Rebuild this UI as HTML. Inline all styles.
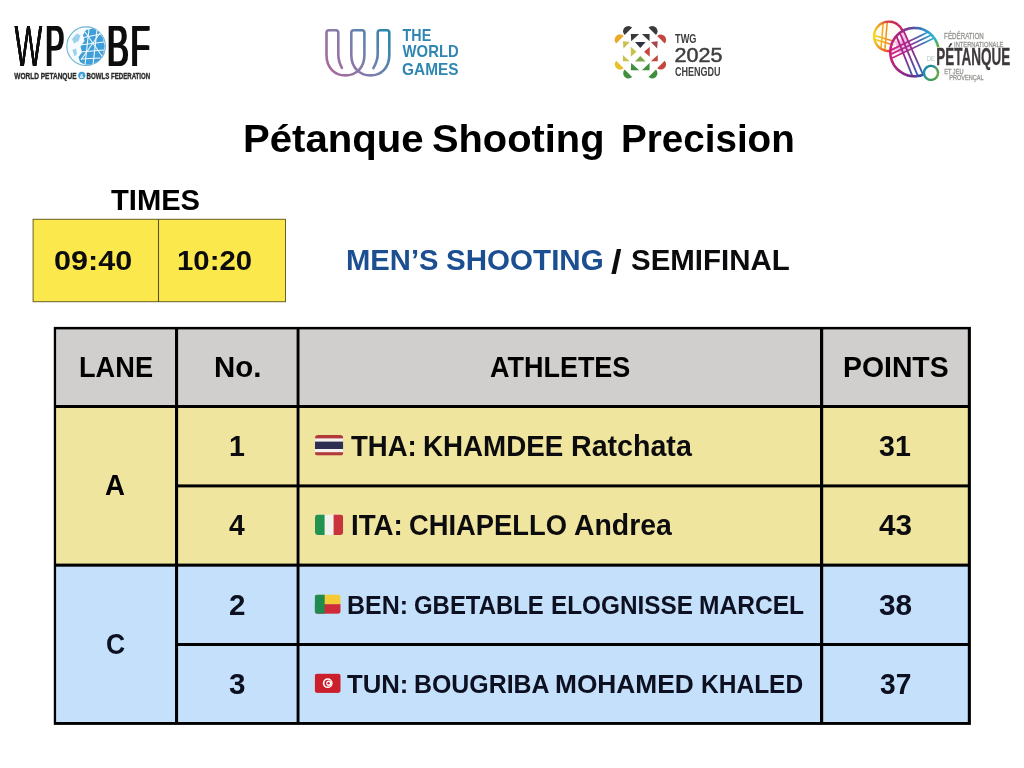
<!DOCTYPE html>
<html lang="en">
<head>
<meta charset="utf-8">
<title>Pétanque Shooting Precision – Men’s Shooting Semifinal</title>
<style>
html,body{margin:0;padding:0;background:#fff}
body{width:1024px;height:768px;position:relative;overflow:hidden;font-family:"Liberation Sans", sans-serif}
.t{position:absolute;display:block;white-space:nowrap;margin:0;padding:0;font-weight:bold;transform-origin:0 0}
.g{margin:0;padding:0;font-size:0;line-height:0;height:0}
svg{position:absolute;left:0;top:0;overflow:visible}
svg text{font-family:"Liberation Sans", sans-serif}
#titlea{left:242.89px;top:120.23px;font-size:38.0px;line-height:38.0px;color:#000;transform:scaleX(1.0560)}
#titleb{left:431.68px;top:120.23px;font-size:38.0px;line-height:38.0px;color:#000;transform:scaleX(1.0477)}
#titlec{left:621.29px;top:120.23px;font-size:38.0px;line-height:38.0px;color:#000;transform:scaleX(1.0158)}
#times{left:110.80px;top:186.05px;font-size:29.0px;line-height:29.0px;color:#000;transform:scaleX(1.0051)}
#t1{left:53.74px;top:246.71px;font-size:27.75px;line-height:27.75px;color:#0c0c0e;transform:scaleX(1.1017)}
#t2{left:177.27px;top:246.71px;font-size:27.75px;line-height:27.75px;color:#0c0c0e;transform:scaleX(1.0570)}
#suba{left:345.97px;top:245.95px;font-size:29.0px;line-height:29.0px;color:#1b4f91;transform:scaleX(1.0071)}
#subb{left:445.54px;top:245.95px;font-size:29.0px;line-height:29.0px;color:#1b4f91;transform:scaleX(1.0196)}
#subc{left:611.30px;top:245.99px;font-size:32.5px;line-height:32.5px;color:#0c0c0e;transform:scaleX(1.1706)}
#subd{left:630.84px;top:245.95px;font-size:29.0px;line-height:29.0px;color:#0c0c0e;transform:scaleX(1.0153)}
#h1{left:78.90px;top:352.56px;font-size:28.75px;line-height:28.75px;color:#000;transform:scaleX(0.9457)}
#h2{left:214.06px;top:352.56px;font-size:28.75px;line-height:28.75px;color:#000;transform:scaleX(1.0230)}
#h3{left:489.58px;top:352.56px;font-size:28.75px;line-height:28.75px;color:#000;transform:scaleX(0.9380)}
#h4{left:843.43px;top:352.56px;font-size:28.75px;line-height:28.75px;color:#000;transform:scaleX(0.9869)}
#la{left:105.47px;top:471.25px;font-size:29.0px;line-height:29.0px;color:#000;transform:scaleX(0.9530)}
#n1{left:228.81px;top:431.55px;font-size:29.0px;line-height:29.0px;color:#0c0c0e;transform:scaleX(0.9857)}
#a1a{left:350.90px;top:432.25px;font-size:29.0px;line-height:29.0px;color:#0c0c0e;transform:scaleX(0.9499)}
#a1b{left:423.37px;top:432.25px;font-size:29.0px;line-height:29.0px;color:#0c0c0e;transform:scaleX(0.9567)}
#a1c{left:571.41px;top:432.25px;font-size:29.0px;line-height:29.0px;color:#0c0c0e;transform:scaleX(0.9863)}
#p1{left:878.65px;top:431.85px;font-size:29.0px;line-height:29.0px;color:#0c0c0e;transform:scaleX(0.9845)}
#n4{left:229.00px;top:510.55px;font-size:29.0px;line-height:29.0px;color:#0c0c0e;transform:scaleX(0.9747)}
#a2a{left:350.57px;top:511.25px;font-size:29.0px;line-height:29.0px;color:#0c0c0e;transform:scaleX(0.9560)}
#a2b{left:408.65px;top:511.25px;font-size:29.0px;line-height:29.0px;color:#0c0c0e;transform:scaleX(0.9425)}
#a2c{left:573.96px;top:511.25px;font-size:29.0px;line-height:29.0px;color:#0c0c0e;transform:scaleX(0.9795)}
#p2{left:879.00px;top:511.45px;font-size:29.0px;line-height:29.0px;color:#0c0c0e;transform:scaleX(1.0243)}
#lc{left:106.27px;top:630.05px;font-size:29.0px;line-height:29.0px;color:#0d1020;transform:scaleX(0.9136)}
#n2{left:229.47px;top:590.65px;font-size:29.0px;line-height:29.0px;color:#0d1020;transform:scaleX(1.0207)}
#a3a{left:347.34px;top:593.41px;font-size:25.5px;line-height:25.5px;color:#0d1020;transform:scaleX(0.9792)}
#a3b{left:414.25px;top:593.41px;font-size:25.5px;line-height:25.5px;color:#0d1020;transform:scaleX(0.9380)}
#a3c{left:550.58px;top:593.41px;font-size:25.5px;line-height:25.5px;color:#0d1020;transform:scaleX(0.9542)}
#a3d{left:699.26px;top:593.41px;font-size:25.5px;line-height:25.5px;color:#0d1020;transform:scaleX(0.9632)}
#p3{left:878.93px;top:590.65px;font-size:29.0px;line-height:29.0px;color:#0d1020;transform:scaleX(1.0263)}
#n3{left:228.94px;top:669.65px;font-size:29.0px;line-height:29.0px;color:#0d1020;transform:scaleX(1.0232)}
#a4a{left:347.00px;top:672.31px;font-size:25.5px;line-height:25.5px;color:#0d1020;transform:scaleX(1.0088)}
#a4b{left:413.94px;top:672.31px;font-size:25.5px;line-height:25.5px;color:#0d1020;transform:scaleX(0.9762)}
#a4c{left:555.16px;top:672.31px;font-size:25.5px;line-height:25.5px;color:#0d1020;transform:scaleX(1.0311)}
#a4d{left:700.87px;top:672.31px;font-size:25.5px;line-height:25.5px;color:#0d1020;transform:scaleX(0.9618)}
#p4{left:880.26px;top:669.55px;font-size:29.0px;line-height:29.0px;color:#0d1020;transform:scaleX(0.9697)}
</style>
</head>
<body>
<header>
<svg width="1024" height="768" viewBox="0 0 1024 768" role="img" aria-label="WPBF – World Petanque &amp; Bowls Federation">
<defs><filter id="hb" x="-5%" y="-5%" width="110%" height="110%"><feOffset in="SourceGraphic" dx="0.65" result="a"/><feOffset in="SourceGraphic" dx="-0.65" result="b"/><feMerge><feMergeNode in="a"/><feMergeNode in="b"/><feMergeNode in="SourceGraphic"/></feMerge></filter></defs>
<defs><filter id="hw" x="-5%" y="-5%" width="110%" height="110%"><feOffset in="SourceGraphic" dx="0.4" result="a"/><feOffset in="SourceGraphic" dx="-0.4" result="b"/><feMerge><feMergeNode in="a"/><feMergeNode in="b"/><feMergeNode in="SourceGraphic"/></feMerge></filter></defs>
<g filter="url(#hw)"><text transform="translate(14.60 66.30) scale(0.5144 1)" font-size="57.32" font-weight="normal" font-style="normal" fill="#0a0a0a" >W</text></g>
<g filter="url(#hb)">
<text transform="translate(45.60 66.30) scale(0.4913 1)" font-size="57.32" font-weight="normal" font-style="normal" fill="#0a0a0a" >P</text>
<text transform="translate(107.04 66.30) scale(0.5711 1)" font-size="57.32" font-weight="normal" font-style="normal" fill="#0a0a0a" >B</text>
<text transform="translate(130.62 66.30) scale(0.5548 1)" font-size="57.32" font-weight="normal" font-style="normal" fill="#0a0a0a" >F</text>
</g>
<g>
<circle cx="86.1" cy="46.2" r="19.3" fill="#f6fbfe" stroke="#6fb2d4" stroke-width="1.1"/>
<path d="M86 30 L93 28.5 L99 32 L103 38.5 L104.6 46 L103.2 54 L99 60.5 L92 64.6 L85 64.8 L80 62 L78.5 57 L82 52.5 L80.5 46.5 L84.5 41 L83 35 Z" fill="#3f9fd8"/>
<path d="M72 39 L77 33.5 L80.5 35.5 L78.5 41 L74 43.5 Z M72.5 50 L76 48.5 L77 54 L74.5 56.5 Z" fill="#9ad2ee"/>
<g stroke="#f2f9fd" stroke-width="1.1" fill="none"><path d="M81 38 L101 34"/><path d="M80 45 L104 42"/><path d="M80 52 L104 50"/><path d="M81 59 L100 58"/><path d="M89 29 L85 65"/><path d="M97 30 L93 65"/><path d="M85 32 L102 56"/><path d="M100 33 L81 60"/></g>
</g>
<text transform="translate(14.30 78.60) scale(0.7288 1)" font-size="8.96" font-weight="bold" font-style="normal" fill="#2a2a2a" stroke="#2a2a2a" stroke-width="0.35">WORLD PETANQUE</text>
<circle cx="81.8" cy="75.4" r="3.6" fill="#3f9fd8"/>
<text transform="translate(79.83 77.50) scale(0.8753 1)" font-size="6.12" font-weight="bold" font-style="normal" fill="#fff" >&amp;</text>
<text transform="translate(86.52 78.60) scale(0.6829 1)" font-size="8.96" font-weight="bold" font-style="normal" fill="#2a2a2a" stroke="#2a2a2a" stroke-width="0.35">BOWLS FEDERATION</text>
</svg>
<svg width="1024" height="768" viewBox="0 0 1024 768" role="img" aria-label="The World Games">
<defs><linearGradient id="twgG" gradientUnits="userSpaceOnUse" x1="328" y1="74" x2="390" y2="30"><stop offset="0" stop-color="#b0669b"/><stop offset="0.5" stop-color="#7a7fae"/><stop offset="1" stop-color="#2487ad"/></linearGradient><linearGradient id="twgT" gradientUnits="userSpaceOnUse" x1="402" y1="0" x2="459" y2="0"><stop offset="0" stop-color="#2f86b4"/><stop offset="1" stop-color="#35a3b6"/></linearGradient></defs>
<path d="M341.9 67.8 C339.5 63.5 338.3 59 338.3 53.9 L338.3 32.7 Q338.3 30.2 335.8 30.2 L329 30.2 Q326.5 30.2 326.5 32.7 L326.5 55 C326.5 68 335 75.4 345.3 75.4 C356 75.4 364.4 68 364.4 55 L364.4 32.7 Q364.4 30.2 361.9 30.2 L353.8 30.2 Q351.3 30.2 351.3 32.7 L351.3 55 C351.3 68 360 75.4 370.4 75.4 C381 75.4 389.3 68 389.3 55 L389.3 32.7 Q389.3 30.2 386.8 30.2 L380.2 30.2 Q377.7 30.2 377.7 32.7 L377.7 53.9 C377.7 59 376 63.5 373.4 68.1" fill="none" stroke="url(#twgG)" stroke-width="2.6" stroke-linecap="round" stroke-linejoin="round"/>
<text transform="translate(402.60 40.60) scale(0.9133 1)" font-size="15.64" font-weight="bold" font-style="normal" fill="url(#twgT)" >THE</text>
<text transform="translate(402.60 57.40) scale(0.9327 1)" font-size="15.93" font-weight="bold" font-style="normal" fill="url(#twgT)" >WORLD</text>
<text transform="translate(402.12 74.50) scale(0.9671 1)" font-size="15.93" font-weight="bold" font-style="normal" fill="url(#twgT)" >GAMES</text>
</svg>
<svg width="1024" height="768" viewBox="0 0 1024 768" role="img" aria-label="TWG 2025 Chengdu">
<path d="M632.11 27.52 A5.31 5.31 0 0 0 624.60 35.03 Z" fill="#3a3a3c"/>
<path d="M656.00 35.03 A5.31 5.31 0 0 0 648.49 27.52 Z" fill="#3a3a3c"/>
<path d="M664.67 43.44 A5.31 5.31 0 0 0 657.17 35.93 Z" fill="#c4463e"/>
<path d="M657.17 68.21 A5.31 5.31 0 0 0 664.67 60.71 Z" fill="#c4463e"/>
<path d="M648.49 77.06 A5.31 5.31 0 0 0 656.00 69.56 Z" fill="#3f8f3c"/>
<path d="M624.60 69.56 A5.31 5.31 0 0 0 632.11 77.06 Z" fill="#3f8f3c"/>
<path d="M616.19 60.71 A5.31 5.31 0 0 0 623.70 68.21 Z" fill="#e8c22e"/>
<path d="M623.70 35.93 A5.31 5.31 0 0 0 616.19 43.44 Z" fill="#eda928"/>
<polygon points="630.83,33.93 639.15,33.93 631.19,41.19" fill="#3a3a3c"/>
<polygon points="641.89,33.93 649.59,33.93 649.59,41.19" fill="#3a3a3c"/>
<polygon points="634.99,42.07 645.61,42.07 640.30,47.91" fill="#2f3340"/>
<polygon points="622.87,41.19 629.68,42.07 623.49,48.53" fill="#c9c24a"/>
<polygon points="630.83,46.76 636.50,51.81 630.83,56.76" fill="#c9c24a"/>
<polygon points="622.87,54.99 629.68,61.36 622.87,61.36" fill="#c9c24a"/>
<polygon points="657.73,41.19 650.92,42.07 657.12,48.53" fill="#a8484a"/>
<polygon points="649.77,46.76 644.11,51.81 649.77,56.76" fill="#c4463e"/>
<polygon points="657.73,54.99 650.92,61.36 657.73,61.36" fill="#c4463e"/>
<polygon points="634.99,61.54 645.61,61.54 640.30,55.88" fill="#7fa64a"/>
<polygon points="630.83,70.21 639.15,70.21 631.19,62.96" fill="#3f8f3c"/>
<polygon points="641.89,70.21 649.59,70.21 649.59,62.96" fill="#3f8f3c"/>
<text transform="translate(675.10 43.20) scale(0.7430 1)" font-size="12.37" font-weight="bold" font-style="normal" fill="#3f3f40" >TWG</text>
<text transform="translate(674.59 61.78) scale(1.0619 1)" font-size="20.31" font-weight="normal" font-style="normal" fill="#3f3f40" stroke="#3f3f40" stroke-width="0.5">2025</text>
<text transform="translate(674.92 75.80) scale(0.7312 1)" font-size="12.37" font-weight="bold" font-style="normal" fill="#3f3f40" >CHENGDU</text>
</svg>
<svg width="1024" height="768" viewBox="0 0 1024 768" role="img" aria-label="Fédération Internationale de Pétanque et Jeu Provençal">
<defs><linearGradient id="fpA" gradientUnits="userSpaceOnUse" x1="893" y1="50" x2="930" y2="32"><stop offset="0" stop-color="#d21f86"/><stop offset="0.45" stop-color="#9a3a98"/><stop offset="0.75" stop-color="#3f6fb4"/><stop offset="1" stop-color="#25b6e0"/></linearGradient><linearGradient id="fpB" gradientUnits="userSpaceOnUse" x1="898" y1="34" x2="922" y2="74"><stop offset="0" stop-color="#c21b7e"/><stop offset="0.5" stop-color="#8e2c8c"/><stop offset="1" stop-color="#2a66b2"/></linearGradient><linearGradient id="fpC" gradientUnits="userSpaceOnUse" x1="876" y1="40" x2="902" y2="40"><stop offset="0" stop-color="#f6d21a"/><stop offset="0.5" stop-color="#ee8a2a"/><stop offset="1" stop-color="#d8285a"/></linearGradient><clipPath id="fpS"><circle cx="888.8" cy="36.3" r="15"/></clipPath><clipPath id="fpL"><circle cx="914.5" cy="52.1" r="24.6"/></clipPath></defs>
<circle cx="888.8" cy="36.3" r="14.6" fill="#fff8ef" fill-opacity="0.6"/>
<g clip-path="url(#fpS)" fill="none" stroke="url(#fpC)" stroke-width="1.6"><path d="M883.3 21.4 L880.9 49.6"/><path d="M887.3 20.9 L884.8 51.1"/><path d="M873.4 35.3 L895.7 41.7"/><path d="M873.9 39.2 L894.7 45.2"/></g>
<g fill="none" stroke-width="2.3" stroke-linecap="butt"><path d="M902.61 31.27 A14.7 14.7 0 0 0 901.33 28.62" stroke="#c3216c"/><path d="M901.53 28.95 A14.7 14.7 0 0 0 899.81 26.56" stroke="#c42365"/><path d="M900.06 26.85 A14.7 14.7 0 0 0 897.95 24.80" stroke="#c4255e"/><path d="M898.25 25.04 A14.7 14.7 0 0 0 895.81 23.38" stroke="#c72859"/><path d="M896.15 23.57 A14.7 14.7 0 0 0 893.46 22.36" stroke="#c92a54"/><path d="M893.83 22.49 A14.7 14.7 0 0 0 890.97 21.76" stroke="#cc2d4f"/><path d="M891.35 21.82 A14.7 14.7 0 0 0 888.42 21.61" stroke="#ce2f4a"/><path d="M888.80 21.60 A14.7 14.7 0 0 0 885.87 21.90" stroke="#d33f43"/><path d="M886.25 21.82 A14.7 14.7 0 0 0 883.41 22.62" stroke="#db593b"/><path d="M883.77 22.49 A14.7 14.7 0 0 0 881.12 23.77" stroke="#e27232"/><path d="M881.45 23.57 A14.7 14.7 0 0 0 879.06 25.29" stroke="#e98c2a"/><path d="M879.35 25.04 A14.7 14.7 0 0 0 877.30 27.15" stroke="#f0a522"/><path d="M877.54 26.85 A14.7 14.7 0 0 0 875.88 29.29" stroke="#f1b11e"/><path d="M876.07 28.95 A14.7 14.7 0 0 0 874.86 31.64" stroke="#f3be1a"/><path d="M874.99 31.27 A14.7 14.7 0 0 0 874.26 34.13" stroke="#f4ca16"/><path d="M874.32 33.75 A14.7 14.7 0 0 0 874.11 36.68" stroke="#f5d712"/><path d="M874.10 36.30 A14.7 14.7 0 0 0 874.40 39.23" stroke="#f5d412"/><path d="M874.32 38.85 A14.7 14.7 0 0 0 875.12 41.69" stroke="#f4c716"/><path d="M874.99 41.33 A14.7 14.7 0 0 0 876.27 43.98" stroke="#f3ba19"/><path d="M876.07 43.65 A14.7 14.7 0 0 0 877.79 46.04" stroke="#f1ac1d"/><path d="M877.54 45.75 A14.7 14.7 0 0 0 879.65 47.80" stroke="#f09e20"/><path d="M879.35 47.56 A14.7 14.7 0 0 0 881.79 49.22" stroke="#ed8a23"/><path d="M881.45 49.03 A14.7 14.7 0 0 0 884.14 50.24" stroke="#ea7626"/><path d="M883.77 50.11 A14.7 14.7 0 0 0 886.63 50.84" stroke="#e6612a"/><path d="M886.25 50.78 A14.7 14.7 0 0 0 889.18 50.99" stroke="#e34d2d"/><path d="M888.80 51.00 A14.7 14.7 0 0 0 891.73 50.70" stroke="#e03f34"/><path d="M891.35 50.78 A14.7 14.7 0 0 0 894.19 49.98" stroke="#dc373f"/><path d="M893.83 50.11 A14.7 14.7 0 0 0 896.48 48.83" stroke="#d82f49"/><path d="M896.15 49.03 A14.7 14.7 0 0 0 898.54 47.31" stroke="#d42754"/><path d="M898.25 47.56 A14.7 14.7 0 0 0 900.30 45.45" stroke="#d0205f"/><path d="M900.06 45.75 A14.7 14.7 0 0 0 901.72 43.31" stroke="#cd1f66"/><path d="M901.53 43.65 A14.7 14.7 0 0 0 902.74 40.96" stroke="#ca1e6d"/><path d="M902.61 41.33 A14.7 14.7 0 0 0 903.34 38.47" stroke="#c61d74"/><path d="M903.28 38.85 A14.7 14.7 0 0 0 903.49 35.92" stroke="#c31b7b"/><path d="M903.50 36.30 A14.7 14.7 0 0 0 903.20 33.37" stroke="#c21c7a"/><path d="M903.28 33.75 A14.7 14.7 0 0 0 902.48 30.91" stroke="#c31e73"/></g>
<circle cx="914.5" cy="52.1" r="24" fill="#fff" fill-opacity="0.75"/>
<polygon points="894.7,41.7 905.6,36.8 910.6,48.6 899.7,54.1" fill="#f7a8e0" fill-opacity="0.75"/>
<g clip-path="url(#fpL)" fill="none" stroke-width="1.8"><g stroke="url(#fpA)"><path d="M930.9 30.8 L890.8 50.1"/><path d="M932.8 34.3 L891.2 54.1"/><path d="M934.8 37.7 L892.2 58.0"/></g><g stroke="url(#fpB)"><path d="M895.7 34.3 L912.5 76.4"/><path d="M899.7 32.3 L918.0 76.4"/><path d="M903.6 30.8 L923.4 75.4"/></g></g>
<g fill="none" stroke-width="2.5" stroke-linecap="butt"><path d="M938.17 47.07 A24.2 24.2 0 0 0 937.42 44.34" stroke="#59a93c"/><path d="M937.54 44.69 A24.2 24.2 0 0 0 936.51 42.05" stroke="#4fac61"/><path d="M936.66 42.39 A24.2 24.2 0 0 0 935.38 39.86" stroke="#45ae85"/><path d="M935.56 40.18 A24.2 24.2 0 0 0 934.03 37.80" stroke="#3bb1a9"/><path d="M934.24 38.10 A24.2 24.2 0 0 0 932.47 35.89" stroke="#31b3ce"/><path d="M932.72 36.17 A24.2 24.2 0 0 0 930.73 34.15" stroke="#2eadd3"/><path d="M931.00 34.40 A24.2 24.2 0 0 0 928.82 32.59" stroke="#2da3d0"/><path d="M929.12 32.82 A24.2 24.2 0 0 0 926.77 31.24" stroke="#2c9acd"/><path d="M927.08 31.43 A24.2 24.2 0 0 0 924.58 30.10" stroke="#2b91ca"/><path d="M924.92 30.26 A24.2 24.2 0 0 0 922.30 29.19" stroke="#2f86c4"/><path d="M922.64 29.31 A24.2 24.2 0 0 0 919.93 28.52" stroke="#3879bb"/><path d="M920.29 28.60 A24.2 24.2 0 0 0 917.50 28.09" stroke="#416cb3"/><path d="M917.87 28.14 A24.2 24.2 0 0 0 915.05 27.91" stroke="#4b5faa"/><path d="M915.41 27.92 A24.2 24.2 0 0 0 912.58 27.98" stroke="#5452a2"/><path d="M912.95 27.95 A24.2 24.2 0 0 0 910.14 28.30" stroke="#5f479a"/><path d="M910.51 28.23 A24.2 24.2 0 0 0 907.75 28.86" stroke="#6e4095"/><path d="M908.10 28.76 A24.2 24.2 0 0 0 905.42 29.67" stroke="#7c3990"/><path d="M905.76 29.53 A24.2 24.2 0 0 0 903.19 30.71" stroke="#8b318b"/><path d="M903.51 30.54 A24.2 24.2 0 0 0 901.07 31.97" stroke="#992a86"/><path d="M901.38 31.77 A24.2 24.2 0 0 0 899.09 33.44" stroke="#a62482"/><path d="M899.38 33.20 A24.2 24.2 0 0 0 897.28 35.10" stroke="#aa2281"/><path d="M897.54 34.84 A24.2 24.2 0 0 0 895.64 36.94" stroke="#af2180"/><path d="M895.87 36.65 A24.2 24.2 0 0 0 894.19 38.93" stroke="#b4207f"/><path d="M894.40 38.63 A24.2 24.2 0 0 0 892.96 41.07" stroke="#b81f7e"/><path d="M893.13 40.74 A24.2 24.2 0 0 0 891.95 43.31" stroke="#bd1d7c"/><path d="M892.09 42.97 A24.2 24.2 0 0 0 891.18 45.65" stroke="#c11c7b"/><path d="M891.28 45.29 A24.2 24.2 0 0 0 890.64 48.05" stroke="#c61b7a"/><path d="M890.71 47.69 A24.2 24.2 0 0 0 890.35 50.50" stroke="#ca1a79"/><path d="M890.38 50.13 A24.2 24.2 0 0 0 890.32 52.96" stroke="#cf1878"/><path d="M890.31 52.59 A24.2 24.2 0 0 0 890.53 55.42" stroke="#cc1979"/><path d="M890.48 55.05 A24.2 24.2 0 0 0 890.99 57.83" stroke="#c61a79"/><path d="M890.90 57.48 A24.2 24.2 0 0 0 891.69 60.19" stroke="#c11b7a"/><path d="M891.57 59.85 A24.2 24.2 0 0 0 892.63 62.47" stroke="#bb1c7b"/><path d="M892.48 62.14 A24.2 24.2 0 0 0 893.80 64.64" stroke="#b61d7c"/><path d="M893.61 64.32 A24.2 24.2 0 0 0 895.18 66.68" stroke="#b11e7c"/><path d="M894.96 66.38 A24.2 24.2 0 0 0 896.77 68.57" stroke="#ab1f7d"/><path d="M896.52 68.29 A24.2 24.2 0 0 0 898.53 70.28" stroke="#a5207e"/><path d="M898.25 70.04 A24.2 24.2 0 0 0 900.46 71.81" stroke="#9d2280"/><path d="M900.16 71.60 A24.2 24.2 0 0 0 902.54 73.14" stroke="#942483"/><path d="M902.22 72.95 A24.2 24.2 0 0 0 904.74 74.24" stroke="#8b2585"/><path d="M904.40 74.09 A24.2 24.2 0 0 0 907.04 75.12" stroke="#822787"/><path d="M906.69 75.00 A24.2 24.2 0 0 0 909.42 75.76" stroke="#7a298a"/><path d="M909.06 75.68 A24.2 24.2 0 0 0 911.85 76.15" stroke="#712b8c"/><path d="M911.48 76.11 A24.2 24.2 0 0 0 914.31 76.30" stroke="#672e8f"/><path d="M913.94 76.29 A24.2 24.2 0 0 0 916.77 76.19" stroke="#5b3795"/><path d="M916.40 76.23 A24.2 24.2 0 0 0 919.20 75.84" stroke="#4f419c"/><path d="M918.84 75.91 A24.2 24.2 0 0 0 921.59 75.24" stroke="#424aa2"/><path d="M921.24 75.34 A24.2 24.2 0 0 0 923.91 74.40" stroke="#3653a8"/></g>
<g fill="none" stroke-width="2.4" stroke-linecap="butt"><path d="M938.00 72.90 A7.0 7.0 0 0 0 937.69 70.82" stroke="#62a543"/><path d="M937.76 71.09 A7.0 7.0 0 0 0 936.92 69.16" stroke="#559f52"/><path d="M937.06 69.40 A7.0 7.0 0 0 0 935.75 67.76" stroke="#489961"/><path d="M935.95 67.95 A7.0 7.0 0 0 0 934.26 66.71" stroke="#3b9371"/><path d="M934.50 66.84 A7.0 7.0 0 0 0 932.54 66.07" stroke="#2e8d80"/><path d="M932.81 66.14 A7.0 7.0 0 0 0 930.73 65.91" stroke="#21878f"/><path d="M931.00 65.90 A7.0 7.0 0 0 0 928.92 66.21" stroke="#1b8698"/><path d="M929.19 66.14 A7.0 7.0 0 0 0 927.26 66.98" stroke="#1b889c"/><path d="M927.50 66.84 A7.0 7.0 0 0 0 925.86 68.15" stroke="#1b89a0"/><path d="M926.05 67.95 A7.0 7.0 0 0 0 924.81 69.64" stroke="#1a8ba4"/><path d="M924.94 69.40 A7.0 7.0 0 0 0 924.17 71.36" stroke="#1a8da8"/><path d="M924.24 71.09 A7.0 7.0 0 0 0 924.01 73.17" stroke="#1a8eac"/><path d="M924.00 72.90 A7.0 7.0 0 0 0 924.31 74.98" stroke="#1e90a6"/><path d="M924.24 74.71 A7.0 7.0 0 0 0 925.08 76.64" stroke="#249298"/><path d="M924.94 76.40 A7.0 7.0 0 0 0 926.25 78.04" stroke="#2a948a"/><path d="M926.05 77.85 A7.0 7.0 0 0 0 927.74 79.09" stroke="#30967c"/><path d="M927.50 78.96 A7.0 7.0 0 0 0 929.46 79.73" stroke="#36976e"/><path d="M929.19 79.66 A7.0 7.0 0 0 0 931.27 79.89" stroke="#3c9960"/><path d="M931.00 79.90 A7.0 7.0 0 0 0 933.08 79.59" stroke="#439b57"/><path d="M932.81 79.66 A7.0 7.0 0 0 0 934.74 78.82" stroke="#4a9e52"/><path d="M934.50 78.96 A7.0 7.0 0 0 0 936.14 77.65" stroke="#51a04c"/><path d="M935.95 77.85 A7.0 7.0 0 0 0 937.19 76.16" stroke="#59a247"/><path d="M937.06 76.40 A7.0 7.0 0 0 0 937.83 74.44" stroke="#60a542"/><path d="M937.76 74.71 A7.0 7.0 0 0 0 937.99 72.63" stroke="#67a73c"/></g>
<text transform="translate(944.11 38.60) scale(0.7302 1)" font-size="8.53" font-weight="normal" font-style="normal" fill="#94948f" stroke="#94948f" stroke-width="0.3">FÉDÉRATION</text>
<text transform="translate(954.05 47.10) scale(0.7104 1)" font-size="8.11" font-weight="normal" font-style="normal" fill="#94948f" stroke="#94948f" stroke-width="0.3">INTERNATIONALE</text>
<text transform="translate(926.96 61.20) scale(0.7387 1)" font-size="7.68" font-weight="normal" font-style="normal" fill="#a9c4c2" >DE</text>
<text transform="translate(936.26 64.70) scale(0.5726 1)" font-size="23.61" font-weight="bold" font-style="normal" fill="#3e3a3c" stroke="#3e3a3c" stroke-width="0.3">PÉTANQUE</text>
<text transform="translate(944.16 73.50) scale(0.7113 1)" font-size="7.96" font-weight="normal" font-style="normal" fill="#94948f" stroke="#94948f" stroke-width="0.3">ET JEU</text>
<text transform="translate(949.26 80.40) scale(0.7277 1)" font-size="7.68" font-weight="normal" font-style="normal" fill="#94948f" stroke="#94948f" stroke-width="0.3">PROVENÇAL</text>
</svg>
</header>
<main>
<h1 class="g" id="title"><span class="t" id="titlea">Pétanque</span> <span class="t" id="titleb">Shooting</span> <span class="t" id="titlec">Precision</span></h1>
<section id="schedule">
<div class="t" id="times">TIMES</div>
<svg width="1024" height="768" viewBox="0 0 1024 768" aria-hidden="true">
<rect x="33.1" y="219.3" width="252.4" height="82.4" fill="#fbe84c" stroke="#6a6024" stroke-width="1"/>
<line x1="158.5" y1="219" x2="158.5" y2="302" stroke="#5a5220" stroke-width="1.1"/>
</svg>
<div class="t" id="t1">09:40</div>
<div class="t" id="t2">10:20</div>
</section>
<h2 class="g" id="sub"><span class="t" id="suba">MEN’S</span> <span class="t" id="subb">SHOOTING</span> <span class="t" id="subc">/</span> <span class="t" id="subd">SEMIFINAL</span></h2>
<section id="results">
<svg width="1024" height="768" viewBox="0 0 1024 768" aria-hidden="true">
<rect x="53.8" y="326.9" width="917.1" height="398" fill="#000"/>
<g fill="#d0cfce">
<rect x="56.1" y="329.4" width="118.9" height="75.6"/>
<rect x="178.1" y="329.4" width="118.5" height="75.6"/>
<rect x="299.5" y="329.4" width="520.5" height="75.6"/>
<rect x="823.2" y="329.4" width="144.6" height="75.6"/>
</g>
<g fill="#efe59f">
<rect x="56.1" y="408" width="118.9" height="155.6"/>
<rect x="178.1" y="408" width="118.5" height="76.4"/>
<rect x="299.5" y="408" width="520.5" height="76.4"/>
<rect x="823.2" y="408" width="144.6" height="76.4"/>
<rect x="178.1" y="487.4" width="118.5" height="76.2"/>
<rect x="299.5" y="487.4" width="520.5" height="76.2"/>
<rect x="823.2" y="487.4" width="144.6" height="76.2"/>
</g>
<g fill="#c5e0fa">
<rect x="56.1" y="566.7" width="118.9" height="155.3"/>
<rect x="178.1" y="566.7" width="118.5" height="76.3"/>
<rect x="299.5" y="566.7" width="520.5" height="76.3"/>
<rect x="823.2" y="566.7" width="144.6" height="76.3"/>
<rect x="178.1" y="646" width="118.5" height="76"/>
<rect x="299.5" y="646" width="520.5" height="76"/>
<rect x="823.2" y="646" width="144.6" height="76"/>
</g>
</svg>
<div class="t" id="h1">LANE</div>
<div class="t" id="h2">No.</div>
<div class="t" id="h3">ATHLETES</div>
<div class="t" id="h4">POINTS</div>
<div class="t" id="la">A</div>
<div class="t" id="n1">1</div>
<div class="g" id="a1"><span class="t" id="a1a">THA:</span> <span class="t" id="a1b">KHAMDEE</span> <span class="t" id="a1c">Ratchata</span></div>
<div class="t" id="p1">31</div>
<div class="t" id="n4">4</div>
<div class="g" id="a2"><span class="t" id="a2a">ITA:</span> <span class="t" id="a2b">CHIAPELLO</span> <span class="t" id="a2c">Andrea</span></div>
<div class="t" id="p2">43</div>
<div class="t" id="lc">C</div>
<div class="t" id="n2">2</div>
<div class="g" id="a3"><span class="t" id="a3a">BEN:</span> <span class="t" id="a3b">GBETABLE</span> <span class="t" id="a3c">ELOGNISSE</span> <span class="t" id="a3d">MARCEL</span></div>
<div class="t" id="p3">38</div>
<div class="t" id="n3">3</div>
<div class="g" id="a4"><span class="t" id="a4a">TUN:</span> <span class="t" id="a4b">BOUGRIBA</span> <span class="t" id="a4c">MOHAMED</span> <span class="t" id="a4d">KHALED</span></div>
<div class="t" id="p4">37</div>
<svg width="1024" height="768" viewBox="0 0 1024 768" role="img" aria-label="flags">
<defs>
<clipPath id="f1"><rect x="315" y="435" width="28.2" height="20.6" rx="3.2"/></clipPath>
<clipPath id="f2"><rect x="315" y="514.4" width="28.2" height="20.6" rx="3.2"/></clipPath>
<clipPath id="f3"><rect x="314.7" y="594.5" width="26" height="19.3" rx="3"/></clipPath>
<clipPath id="f4"><rect x="314.7" y="673.6" width="26" height="19.3" rx="3"/></clipPath>
</defs>
<g clip-path="url(#f1)">
<rect x="315" y="435" width="28.2" height="20.6" fill="#b23a38"/>
<rect x="315" y="438.4" width="28.2" height="13.8" fill="#f4f1ee"/>
<rect x="315" y="441.6" width="28.2" height="7.4" fill="#2d2f52"/>
</g>
<g clip-path="url(#f2)">
<rect x="315" y="514.4" width="28.2" height="20.6" fill="#f3f1ec"/>
<rect x="315" y="514.4" width="9.6" height="20.6" fill="#22934f"/>
<rect x="333.6" y="514.4" width="9.6" height="20.6" fill="#c8343a"/>
</g>
<g clip-path="url(#f3)">
<rect x="314.7" y="594.5" width="26" height="9.7" fill="#f4cb34"/>
<rect x="314.7" y="604.2" width="26" height="9.7" fill="#cf2a38"/>
<rect x="314.7" y="594.5" width="10" height="19.3" fill="#1f8b4f"/>
</g>
<g clip-path="url(#f4)">
<rect x="314.7" y="673.6" width="26" height="19.3" fill="#cc1f2c"/>
<circle cx="327.7" cy="683.2" r="4.9" fill="#fff"/>
<circle cx="327.9" cy="683.2" r="3.4" fill="#cc1f2c"/>
<circle cx="328.9" cy="683.2" r="2.7" fill="#fff"/>
<circle cx="328.6" cy="683.2" r="1.2" fill="#cc1f2c"/>
</g>
</svg>
</section>
</main>
</body>
</html>
